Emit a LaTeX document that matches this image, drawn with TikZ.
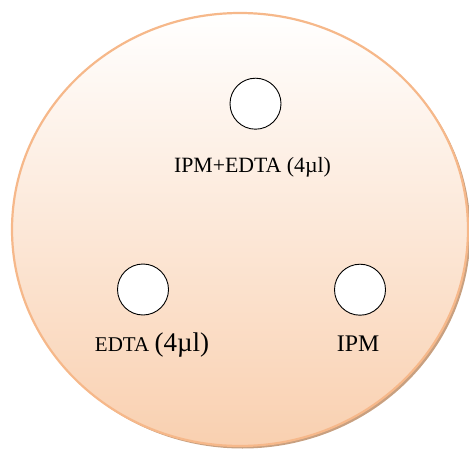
\documentclass[tikz,border=0pt]{standalone}
\usepackage{fontspec}
\setmainfont{Liberation Serif}
\definecolor{rimc}{RGB}{246,184,138}
\definecolor{shadowc}{RGB}{200,160,128}
\definecolor{platebot}{RGB}{249,208,176}
\definecolor{platetop}{RGB}{255,255,255}
\tikzset{
  well/.style={circle, draw=black, line width=0.9bp, fill=white, minimum size=51bp, inner sep=0pt},
  lbl/.style={anchor=base, inner sep=0pt, text=black}
}
\begin{document}
\begin{tikzpicture}[x=1bp,y=-1bp]
\useasboundingbox (0,0) rectangle (469,449);
% drop shadow of the plate
\fill[shadowc] (242.5,232) ellipse [x radius=228, y radius=216.5];
% the plate with its gradient
\shade[top color=platetop, bottom color=platebot, draw=rimc, line width=2.2bp]
  (240,229.5) ellipse [x radius=228, y radius=216.5];
% wells
\node[well] (w1) at (255.5,103.7) {};
\node[well] (w2) at (143,289.5) {};
\node[well] (w3) at (360,289.7) {};
% labels
\node[lbl] (l1) at (252.5,172.7) {\fontsize{21.8bp}{24bp}\selectfont IPM+EDTA (4µl)};
\node[lbl] (l2) at (152,351.7) {\fontsize{21bp}{24bp}\selectfont EDTA \fontsize{27bp}{28bp}\selectfont(4µl)};
\node[lbl] (l3) at (358,351.7) {\fontsize{23.8bp}{26bp}\selectfont IPM};
\end{tikzpicture}
\end{document}
